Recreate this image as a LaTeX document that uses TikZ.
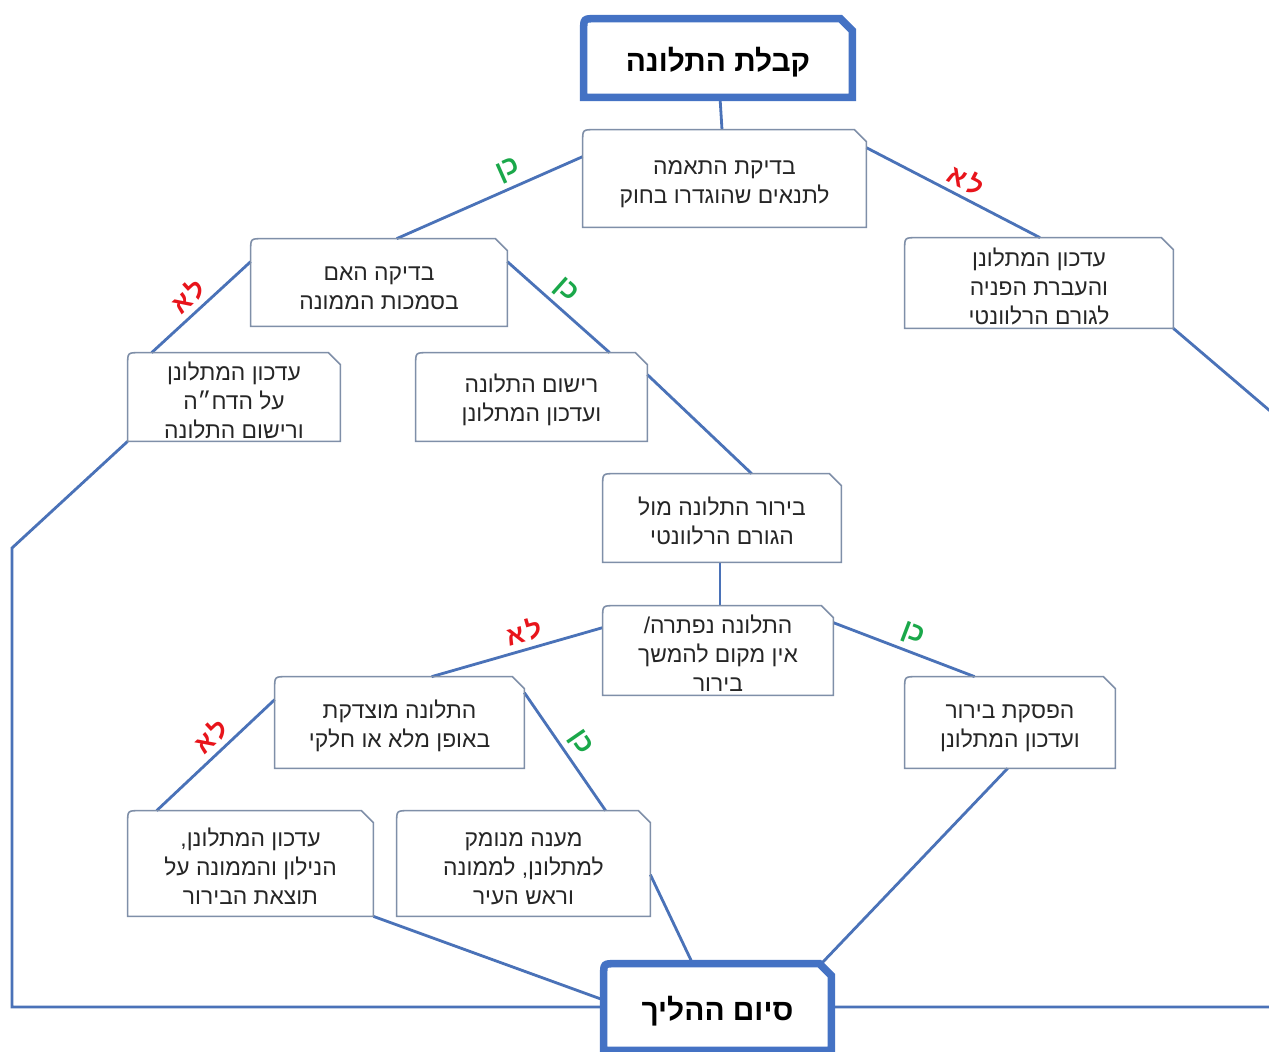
\documentclass[tikz,border=0pt]{standalone}
\usepackage{fontspec}
\usetikzlibrary{calc}
\TeXXeTstate=1
\newfontfamily\hebf[Script=Hebrew]{Liberation Sans}
\newcommand\hl[1]{\beginR #1\endR}
\newcommand\fl[1]{\rule{0pt}{14pt}\beginR #1\endR}
\newcommand\tl[1]{\rule{0pt}{19pt}\beginR #1\endR}
\newcommand\lo{\hl{ל\kern1.5ptא}}
\newcommand\ken{\hl{כן}}
\newlength\pxu
\setlength\pxu{0.02cm}
\definecolor{lineblue}{HTML}{4A72B8}
\definecolor{thickblue}{HTML}{4472C4}
\definecolor{boxgray}{HTML}{7F8FA8}
\definecolor{yesgreen}{HTML}{1AA84A}
\definecolor{nored}{HTML}{E8141B}
\newcommand\outline[2][]{%
  \draw[#1] (#2.south west) -- ($(#2.north west)+(0,12)$) .. controls (#2.north west) .. ($(#2.north west)+(12,0)$) -- ($(#2.north east)+(-12,0)$) -- ($(#2.north east)+(0,12)$) -- (#2.south east) -- cycle;}
\tikzset{
  box/.style={inner sep=0pt, align=center, text=black!85, font=\hebf\fontsize{13}{16.5}\selectfont},
  bigbox/.style={inner sep=0pt, align=center, text=black, font=\hebf\bfseries\fontsize{17}{20}\selectfont},
  conn/.style={draw=lineblue, line width=1.6pt},
  boxline/.style={draw=boxgray, line width=0.9pt},
  bigline/.style={draw=thickblue, line width=4.3pt},
  yes/.style={text=yesgreen, font=\hebf\bfseries\fontsize{15}{15}\selectfont, sloped, above, inner sep=3pt},
  no/.style={text=nored, font=\hebf\bfseries\fontsize{15}{15}\selectfont, sloped, above, inner sep=3pt},
}
\begin{document}
\begin{tikzpicture}[x=0.02cm, y=-0.02cm]
\useasboundingbox (0,0) rectangle (1269,1052);
\fill[white] (0,0) rectangle (1269,1052);
\clip (0,0) rectangle (1269,1052);

% nodes
\node[bigbox, minimum width=268\pxu, minimum height=78\pxu] (top) at (718,58) {\tl{קבלת התלונה}};
\node[box, minimum width=283\pxu, minimum height=97\pxu] (b1) at (724.5,178.5) {\fl{בדיקת התאמה}\\\hl{לתנאים שהוגדרו בחוק}};
\node[box, minimum width=256\pxu, minimum height=87\pxu] (b2) at (379,282.5) {\fl{בדיקה האם}\\\hl{בסמכות הממונה}};
\node[box, minimum width=268\pxu, minimum height=90\pxu] (b3) at (1039,283) {\fl{עדכון המתלונן}\\\hl{והעברת הפניה}\\\hl{לגורם הרלוונטי}};
\node[box, minimum width=212\pxu, minimum height=88\pxu] (b4) at (234,397) {\fl{עדכון המתלונן}\\\hl{על הדח״ה}\\\hl{ורישום התלונה}};
\node[box, minimum width=231\pxu, minimum height=88\pxu] (b5) at (531.5,397) {\fl{רישום התלונה}\\\hl{ועדכון המתלונן}};
\node[box, minimum width=238\pxu, minimum height=88\pxu] (b6) at (722,518) {\fl{בירור התלונה מול}\\\hl{הגורם הרלוונטי}};
\node[box, minimum width=230\pxu, minimum height=89\pxu] (b7) at (718,650.5) {\fl{התלונה נפתרה/}\\\hl{אין מקום להמשך}\\\hl{בירור}};
\node[box, minimum width=249\pxu, minimum height=91\pxu] (b8) at (399.5,722.5) {\fl{התלונה מוצדקת}\\\hl{באופן מלא או חלקי}};
\node[box, minimum width=210\pxu, minimum height=91\pxu] (b9) at (1010,722.5) {\fl{הפסקת בירור}\\\hl{ועדכון המתלונן}};
\node[box, minimum width=245\pxu, minimum height=105\pxu] (b10) at (250.5,863.5) {\fl{עדכון המתלונן,}\\\hl{הנילון והממונה על}\\\hl{תוצאת הבירור}};
\node[box, minimum width=253\pxu, minimum height=105\pxu] (b11) at (523.5,863.5) {\fl{מענה מנומק}\\\hl{למתלונן, לממונה}\\\hl{וראש העיר}};
\node[bigbox, minimum width=227\pxu, minimum height=86\pxu] (end) at (717.5,1007) {\tl{סיום ההליך}};

% free corner points
\coordinate (lcorner) at (12,548);
\coordinate (rcorner) at (1300,436.5);

% connectors
\draw[conn] ($(top.south)+(2,0)$) -- ($(b1.north)+(-2.5,0)$);
\draw[conn] ($(b1.north west)+(0,27)$) -- node[yes, pos=0.36] (l1) {\ken} ($(b2.north west)+(146,0)$);
\draw[conn] ($(b1.north east)+(0,18)$) -- node[no, pos=0.53] (l2) {\lo} ($(b3.north)+(1,0)$);
\draw[conn] ($(b2.north west)+(0,23)$) -- node[no, pos=0.52] (l3) {\lo} ($(b4.north west)+(24,0)$);
\draw[conn] ($(b2.north east)+(0,23)$) -- node[yes, pos=0.46] (l4) {\ken} ($(b5.north west)+(194,0)$);
\draw[conn] ($(b5.north east)+(0,22)$) -- ($(b6.north west)+(149,0)$);
\draw[conn] ($(b6.south)+(-2,0)$) -- ($(b7.north)+(2,0)$);
\draw[conn] ($(b7.north west)+(0,22)$) -- node[no, pos=0.43] (l5) {\lo} ($(b8.north west)+(157,0)$);
\draw[conn] ($(b7.north east)+(0,17)$) -- node[yes, pos=0.52] (l6) {\ken} ($(b9.north west)+(70,0)$);
\draw[conn] ($(b8.north west)+(0,23)$) -- node[no, pos=0.44] (l7) {\lo} ($(b10.north west)+(29,0)$);
\draw[conn] ($(b8.north east)+(0,16)$) -- node[yes, pos=0.51] (l8) {\ken} ($(b11.north west)+(209,0)$);
\draw[conn] ($(b9.south west)+(103,0)$) -- ($(end.north east)+(-10,0)$);
\draw[conn] ($(b11.north east)+(0,64)$) -- ($(end.north west)+(89,0)$);
\draw[conn] (b10.south east) -- ($(end.west)+(0,-7)$);
\draw[conn] (b4.south west) -- (lcorner) |- (end.west);
\draw[conn] (b3.south east) -- (rcorner) |- (end.east);

% box outlines
\foreach \n in {b1,b2,b3,b4,b5,b6,b7,b8,b9,b10,b11} {\outline[boxline]{\n}}
\outline[bigline]{top}
\outline[bigline]{end}
\end{tikzpicture}
\end{document}
